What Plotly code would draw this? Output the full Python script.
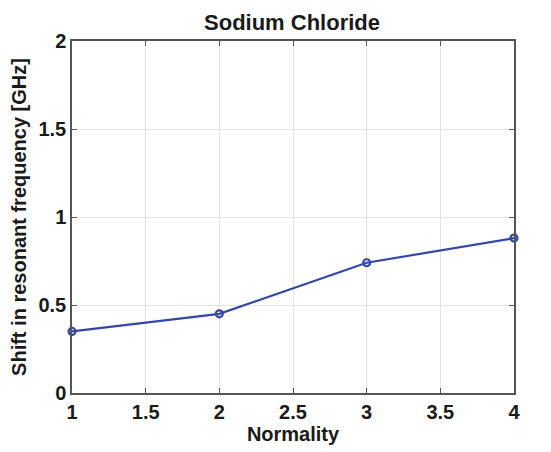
import plotly.graph_objects as go

normality = [1, 2, 3, 4]
shift_ghz = [0.35, 0.45, 0.74, 0.88]
x_ticks = [1, 1.5, 2, 2.5, 3, 3.5, 4]
x_tick_labels = ["1", "1.5", "2", "2.5", "3", "3.5", "4"]
y_ticks = [0, 0.5, 1, 1.5, 2]
y_tick_labels = ["0", "0.5", "1", "1.5", "2"]

fig = go.Figure()
fig.add_trace(go.Scatter(
    x=normality, y=shift_ghz, mode="lines+markers",
    line=dict(color="#3447a8", width=2.2),
    marker=dict(symbol="circle-open", size=7, color="#3447a8", line=dict(width=2.2)),
    cliponaxis=False,
))

font_family = "Liberation Sans, Arial, sans-serif"
axis_common = dict(
    showline=True, linecolor="#555555", linewidth=1.5, mirror="ticks",
    ticks="inside", ticklen=5, tickcolor="#555555",
    showgrid=True, gridcolor="#e3e3e3", gridwidth=1,
    zeroline=False,
    tickfont=dict(family=font_family, size=20, color="#1a1a1a", weight="bold"),
)

fig.update_layout(
    width=551, height=452,
    margin=dict(l=72, r=37, t=41, b=59),
    paper_bgcolor="white", plot_bgcolor="white",
    showlegend=False,
    title=dict(text="<b>Sodium Chloride</b>", x=0.53, xanchor="center", y=0.95, yanchor="middle",
               font=dict(family=font_family, size=22, color="#1a1a1a")),
    xaxis=dict(range=[1, 4], tickvals=x_ticks, ticktext=x_tick_labels,
               title=dict(text="<b>Normality</b>", font=dict(family=font_family, size=20, color="#1a1a1a"), standoff=2),
               **axis_common),
    yaxis=dict(range=[0, 2], tickvals=y_ticks, ticktext=y_tick_labels,
               title=dict(text="<b>Shift in resonant frequency [GHz]</b>", font=dict(family=font_family, size=20, color="#1a1a1a"), standoff=6),
               **axis_common),
)

fig.write_html("out.html")
